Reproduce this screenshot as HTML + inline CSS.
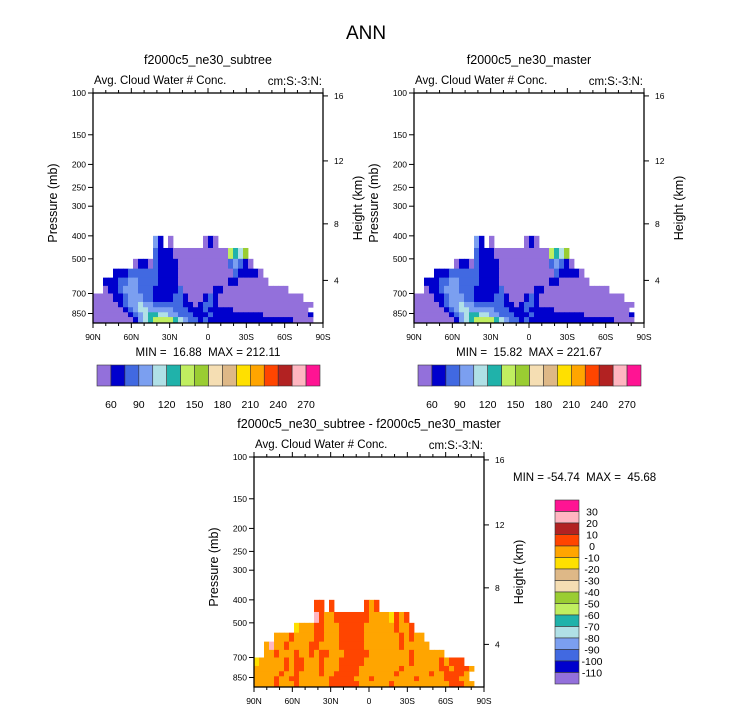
<!DOCTYPE html>
<html><head><meta charset="utf-8"><style>
html,body{margin:0;padding:0;background:#fff;}
svg{display:block;font-family:"Liberation Sans",Arial,sans-serif;}
.pre{white-space:pre;}
</style></head><body>
<svg id="chart" width="733" height="711" viewBox="0 0 733 711" xmlns="http://www.w3.org/2000/svg">
<text x="366" y="39" font-size="19" text-anchor="middle">ANN</text>
</svg>
<script>
// ---- data ----
const palette = ["#9370DB","#0000CD","#4169E1","#7B9FF0","#B0E0E6","#20B2AA","#C0EE60","#9ACD32","#F5DEB3","#DEB887","#FFE000","#FFA500","#FF4500","#B22222","#FFB6C1","#FF1493"];
const pressureEdges = [400,450,500,550,600,650,700,760,800,840,880,932];
const pressureTicks = [100,150,200,250,300,400,500,700,850];
const heightTicks = [4,8,12,16];
const latTicks = [90,60,30,0,-30,-60,-90];
const latTickLabels = ["90N","60N","30N","0","30S","60S","90S"];
const topLevels = ["60","90","120","150","180","210","240","270"];
const diffLevels = ["30","20","10","0","-10","-20","-30","-40","-50","-60","-70","-80","-90","-100","-110"];
const gridA = [
"............31.0......010.....................",
"............2111000000000006547...............",
"........011021111000000000023210..............",
"....111222222111100000000000211110............",
"..111223322221111000000000011000000...........",
"..0112333222111112000000110000000000000.......",
"000011233322111122100012100000000000000000....",
"00000123343322222211012210000000000000000000..",
"0000001234433333222111211111000000000000000...",
"00000001234554433222111211111111110000000001..",
"00000000134566665432212111111111111111110000.."
];
const gridB = [
"............31.0......010.....................",
"............2111000000000006547...............",
"........011021111000000000023210..............",
"....111222222111100000000000211110............",
"..111223322221111000000000011000000...........",
"..0112333222111112000000110000000000000.......",
"000011233322111122100012100000000000000000....",
"00000123343322222211012210000000000000000000..",
"0000001234433333222111211111000000000000000...",
"00000001234554433222111211111111110000000001..",
"00000000134566665432212111111111111111110000.."
];
const gridD = [
"............cc.c......cbc.....................",
"............ecbbcccccccbbbbacbca..............".slice(0,31)+"...............",
"........abbbccbbbcccccbbbbbbcbbc..............",
"....bbbcbbbbccbbbcccccbbbbbbbcbcbb............",
"..bebbcbbbbccbbbbcccccbbbbbbbcbbbbb...........",
"..bbcbbbcbbcbccbbbcccccbbbbbbbbcbbbbbb........",
"abbbbbcbccbbbcbbbcccccbbbbbbbbbcbbbbbcbccc....",
"bbbbbbcbccbbbcbbbccccbbbbbbbbcbbbbbbbccbcccb..",
"bbbbbcbbcbbbbcbbcccccbbbbbbbcbbbbbbcbbccccb...",
"bbbbcbbccbbbbbbcccccbbbcbbbbbbbbcbbbbbcccbb...",
"bbbbcbbbcbbbbbbccccccbbbbbbcbbbbbbbbbbbcccbb.."
];

const NS="http://www.w3.org/2000/svg";
const svg=document.getElementById('chart');
function el(tag,attrs,parent,txt){const e=document.createElementNS(NS,tag);for(const k in attrs)e.setAttribute(k,attrs[k]);if(txt!==undefined)e.textContent=txt;(parent||svg).appendChild(e);return e;}

const W=230,H=230,PB=932;
function heightToP(z){z*=1000;return z<=11000?1013.25*Math.pow(1-2.25577e-5*z,5.25588):226.32*Math.exp(-(z-11000)/6341.6);}

function drawPanel(ox,oy,grid,title,minmax,mmx,mmy,mmAnchor,name){
  const g=el('g',{});
  
  
  const yS=p=>oy+H*Math.log(p/100)/Math.log(PB/100);
  const xS=lat=>ox+(90-lat)/180*W;
  const nc=46;
  const dLat=180/nc;
  for(let r=0;r<grid.length;r++){
    for(let c=0;c<nc;c++){
      const ch=grid[r][c]; if(ch===undefined||ch==='.')continue;
      const v=parseInt(ch,16);
      const x0=xS(90-c*dLat),x1=xS(90-(c+1)*dLat);
      const y0=yS(pressureEdges[r]),y1=yS(pressureEdges[r+1]);
      const rc=el('rect',{x:x0.toFixed(2),y:y0.toFixed(2),width:(x1-x0+0.4).toFixed(2),height:(y1-y0+0.4).toFixed(2),fill:palette[v]},g);
      
      
    }
  }
  const fr=el('rect',{x:ox,y:oy,width:W,height:H,fill:'none',stroke:'#000','stroke-width':1.3},g);
  
  
  pressureTicks.forEach(p=>{const y=yS(p);el('line',{x1:ox-5,x2:ox,y1:y,y2:y,stroke:'#000'},g);
    const t=el('text',{x:ox-7,y:y+3,'font-size':8.5,'text-anchor':'end'},g,p);
    
    });
  heightTicks.forEach(z=>{const y=yS(heightToP(z));el('line',{x1:ox+W,x2:ox+W+5,y1:y,y2:y,stroke:'#000'},g);
    const t=el('text',{x:ox+W+11,y:y+3,'font-size':8.5},g,z);
    
    });
  for(let lat=90;lat>=-90;lat-=10){const x=xS(lat);const major=lat%30===0;const L=major?5:3;
    el('line',{x1:x,x2:x,y1:oy+H,y2:oy+H+L,stroke:'#000'},g);
    el('line',{x1:x,x2:x,y1:oy,y2:oy-L,stroke:'#000'},g);}
  latTicks.forEach((lat,i)=>{const t=el('text',{x:xS(lat),y:oy+H+17,'font-size':8.5,'text-anchor':'middle'},g,latTickLabels[i]);
    
    });
  const st=el('text',{x:ox+W/2,y:oy-29,'font-size':12.5,'text-anchor':'middle'},g,title);
  
  
  const a=el('text',{x:ox+1,y:oy-9,'font-size':11.5},g,'Avg. Cloud Water # Conc.');
  
  
  const cm=el('text',{x:ox+W-1,y:oy-8,'font-size':11.5,'text-anchor':'end'},g,'cm:S:-3:N:');
  
  
  const yl=el('text',{x:0,y:0,'font-size':12.5,'text-anchor':'middle',transform:`translate(${ox-36},${oy+H/2-5}) rotate(-90)`},g,'Pressure (mb)');
  
  
  const hl=el('text',{x:0,y:0,'font-size':12.5,'text-anchor':'middle',transform:`translate(${ox+W+39},${oy+H/2}) rotate(-90)`},g,'Height (km)');
  
  
  const mm=el('text',{x:mmx,y:mmy,'font-size':11.5,'text-anchor':mmAnchor,'class':'pre'},g,minmax);
  
  
}
drawPanel(93,93,gridA,'f2000c5_ne30_subtree','MIN =  16.88  MAX = 212.11',208,356,'middle','panel-subtree');
drawPanel(414,93,gridB,'f2000c5_ne30_master','MIN =  15.82  MAX = 221.67',529,356,'middle','panel-master');
drawPanel(254,457,gridD,'f2000c5_ne30_subtree - f2000c5_ne30_master','MIN = -54.74  MAX =  45.68',513,481,'start','panel-difference');

function hBar(ox,name){const g=el('g',{});
  
  
  const bw=223/16;
  palette.forEach((c,i)=>{const r=el('rect',{x:ox+i*bw,y:365,width:bw,height:21,fill:c,stroke:'#333','stroke-width':0.6},g);
    
    });
  topLevels.forEach((lab,i)=>{const t=el('text',{x:ox+(2*i+1)*bw,y:408,'font-size':10.5,'text-anchor':'middle'},g,lab);
    
    });
}
hBar(97,'colorbar-subtree');hBar(418,'colorbar-master');
(function(){const g=el('g',{});
  
  
  const bh=184/16;
  for(let i=0;i<16;i++){const r=el('rect',{x:555,y:500+i*bh,width:24,height:bh,fill:palette[15-i],stroke:'#333','stroke-width':0.6},g);
    
    }
  diffLevels.forEach((lab,i)=>{const t=el('text',{x:592,y:500+(i+1)*bh+4,'font-size':10.5,'text-anchor':'middle'},g,lab);
    
    });
})();
</script>
</body></html>
